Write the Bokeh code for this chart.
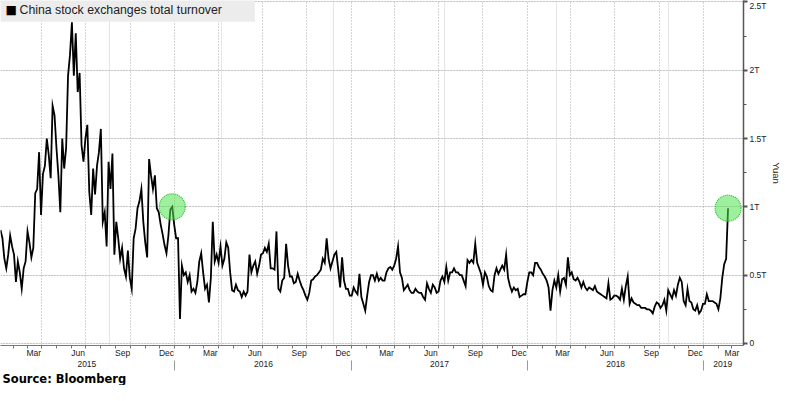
import pandas as pd
from bokeh.plotting import figure
from bokeh.models import (ColumnDataSource, Range1d, LinearAxis, FixedTicker,
                          SingleIntervalTicker, Grid, Label, Title)
from bokeh.embed import file_html
from bokeh.resources import INLINE

# ---------------- data (trillion yuan), sampled every 4 calendar days ----------------
series_start = "2015-01-05"
step_days = 4
turnover = [
    0.83, 0.77, 0.62, 0.55, 0.65, 0.79, 0.71, 0.65, 0.45, 0.60,
    0.52, 0.40, 0.55, 0.60, 0.82, 0.74, 0.63, 0.70, 1.10, 1.13,
    1.40, 0.94, 1.24, 1.30, 1.50, 1.38, 1.21, 1.74, 1.67, 1.43,
    1.23, 0.96, 1.50, 1.28, 1.43, 1.96, 2.11, 2.35, 1.96, 2.27,
    1.84, 1.98, 1.45, 1.33, 1.50, 1.60, 1.11, 0.94, 1.28, 1.09,
    1.30, 1.40, 1.57, 0.89, 0.96, 0.71, 1.33, 1.13, 1.39, 0.65,
    0.89, 0.77, 0.62, 0.70, 0.55, 0.49, 0.68, 0.48, 0.40, 0.77,
    0.84, 0.99, 1.04, 1.13, 0.89, 0.74, 0.63, 1.35, 1.23, 1.13,
    1.23, 0.99, 0.96, 0.87, 0.80, 0.72, 0.66, 0.79, 0.98, 1.00,
    0.87, 0.77, 0.77, 0.18, 0.57, 0.50, 0.52, 0.45, 0.50, 0.38,
    0.40, 0.37, 0.45, 0.60, 0.66, 0.52, 0.40, 0.43, 0.30, 0.48,
    0.89, 0.60, 0.65, 0.59, 0.71, 0.57, 0.62, 0.74, 0.70, 0.52,
    0.39, 0.38, 0.43, 0.39, 0.38, 0.34, 0.38, 0.35, 0.38, 0.65,
    0.52, 0.57, 0.60, 0.51, 0.57, 0.65, 0.66, 0.70, 0.67, 0.73,
    0.55, 0.55, 0.54, 0.82, 0.40, 0.38, 0.46, 0.48, 0.73, 0.57,
    0.49, 0.49, 0.44, 0.45, 0.51, 0.46, 0.42, 0.39, 0.35, 0.32,
    0.37, 0.46, 0.47, 0.49, 0.50, 0.52, 0.54, 0.62, 0.59, 0.77,
    0.62, 0.55, 0.60, 0.65, 0.67, 0.54, 0.41, 0.63, 0.46, 0.40,
    0.40, 0.35, 0.35, 0.41, 0.38, 0.36, 0.51, 0.34, 0.29, 0.24,
    0.35, 0.45, 0.50, 0.50, 0.46, 0.51, 0.46, 0.48, 0.46, 0.46,
    0.52, 0.55, 0.56, 0.54, 0.57, 0.62, 0.71, 0.52, 0.48, 0.39,
    0.41, 0.43, 0.39, 0.37, 0.37, 0.40, 0.38, 0.37, 0.37, 0.34,
    0.32, 0.44, 0.40, 0.37, 0.43, 0.41, 0.37, 0.38, 0.46, 0.49,
    0.45, 0.56, 0.46, 0.52, 0.52, 0.55, 0.52, 0.52, 0.50, 0.50,
    0.46, 0.42, 0.61, 0.59, 0.61, 0.59, 0.73, 0.59, 0.55, 0.51,
    0.43, 0.52, 0.49, 0.42, 0.39, 0.38, 0.50, 0.55, 0.51, 0.54,
    0.57, 0.54, 0.65, 0.48, 0.42, 0.38, 0.41, 0.39, 0.40, 0.34,
    0.35, 0.36, 0.36, 0.45, 0.52, 0.52, 0.50, 0.59, 0.59, 0.56,
    0.54, 0.51, 0.49, 0.46, 0.41, 0.24, 0.39, 0.46, 0.41, 0.50,
    0.38, 0.47, 0.48, 0.43, 0.63, 0.50, 0.52, 0.47, 0.46, 0.48,
    0.45, 0.41, 0.45, 0.41, 0.39, 0.41, 0.40, 0.39, 0.42, 0.38,
    0.37, 0.36, 0.35, 0.34, 0.33, 0.44, 0.32, 0.33, 0.35, 0.35,
    0.34, 0.32, 0.40, 0.32, 0.42, 0.49, 0.29, 0.33, 0.30, 0.29,
    0.28, 0.28, 0.26, 0.26, 0.26, 0.25, 0.25, 0.24, 0.22, 0.27,
    0.30, 0.29, 0.26, 0.28, 0.32, 0.24, 0.39, 0.36, 0.33, 0.39,
    0.35, 0.43, 0.48, 0.45, 0.31, 0.28, 0.40, 0.31, 0.30, 0.25,
    0.24, 0.28, 0.22, 0.24, 0.29, 0.29, 0.36, 0.31, 0.31, 0.31,
    0.30, 0.29, 0.25, 0.33, 0.48, 0.58, 0.62, 0.99,
]

highlight_dates = ["2015-12-27", "2019-02-21"]
highlight_values = [1.00, 0.99]

x_start, x_end = "2015-01-05", "2019-03-25"

grid_dates = ["2015-04-01", "2015-07-01", "2015-10-01", "2016-01-01",
              "2016-04-01", "2016-07-01", "2016-10-01", "2017-01-01",
              "2017-04-01", "2017-07-01", "2017-10-01", "2018-01-01",
              "2018-04-01", "2018-07-01", "2018-10-01", "2019-01-01"]
month_tick_dates = ["2015-03-15", "2015-06-15", "2015-09-15", "2015-12-15",
                    "2016-03-15", "2016-06-15", "2016-09-15", "2016-12-15",
                    "2017-03-15", "2017-06-15", "2017-09-15", "2017-12-15",
                    "2018-03-15", "2018-06-15", "2018-09-15", "2018-12-15",
                    "2019-03-01"]
month_tick_labels = ["Mar", "Jun", "Sep", "Dec"] * 4 + ["Mar"]
month_start_dates = list(pd.date_range("2015-02-01", "2019-03-01", freq="MS"))
year_tick_dates = ["2015-07-03", "2016-07-03", "2017-07-03", "2018-07-03", "2019-02-10"]
year_tick_labels = ["2015", "2016", "2017", "2018", "2019"]
year_break_dates = ["2016-01-01", "2017-01-01", "2018-01-01", "2019-01-01"]
y_tick_values = [0, 0.5, 1, 1.5, 2, 2.5]
y_tick_labels = ["0", "0.5T", "1T", "1.5T", "2T", "2.5T"]


def ms(d):
    return int(pd.Timestamp(d).value // 10**6)


dates = pd.date_range(series_start, periods=len(turnover), freq=f"{step_days}D")
src = ColumnDataSource(dict(date=dates, value=turnover))
hl_src = ColumnDataSource(dict(date=pd.to_datetime(highlight_dates), value=highlight_values))

FONT = "Liberation Sans"
TICK_COLOR = "#222222"
TICK_SIZE = "8.5px"

p = figure(width=784, height=385, output_backend="svg", toolbar_location=None,
           x_axis_location=None, y_axis_location=None,
           x_range=Range1d(ms(x_start), ms(x_end)),
           y_range=Range1d(-0.015, 2.51),
           min_border=0, outline_line_color=None,
           background_fill_color="white", border_fill_color="white")

# grids
p.add_layout(Grid(dimension=0, ticker=FixedTicker(ticks=[ms(d) for d in grid_dates]),
                  grid_line_color="#aaaaaa", grid_line_dash="1 2", grid_line_width=1))
p.add_layout(Grid(dimension=1, ticker=SingleIntervalTicker(interval=0.5),
                  grid_line_color="#aaaaaa", grid_line_dash="1 2", grid_line_width=1))

# series
p.line("date", "value", source=src, line_color="black", line_width=1.8,
       line_join="miter")
p.scatter("date", "value", source=hl_src, size=26, marker="circle",
          fill_color="#4ee44e", fill_alpha=0.55,
          line_color="#2cc02c", line_dash="1 1", line_width=1.2)

# right value axis
yaxis = LinearAxis(
    ticker=SingleIntervalTicker(interval=0.5, num_minor_ticks=2),
    major_label_overrides=dict(zip(y_tick_values, y_tick_labels)),
    axis_label="Yuan", axis_label_text_font=FONT, axis_label_text_font_size="9.5px",
    axis_label_text_font_style="normal", axis_label_text_color=TICK_COLOR,
    axis_label_standoff=1,
    major_label_text_font=FONT, major_label_text_font_size=TICK_SIZE,
    major_label_text_color=TICK_COLOR, major_label_standoff=2,
    axis_line_color="#555555", axis_line_width=1.5,
    major_tick_line_color="#555555", major_tick_line_width=2,
    major_tick_in=0, major_tick_out=4,
    minor_tick_line_color="#555555", minor_tick_in=0, minor_tick_out=3)
p.add_layout(yaxis, "right")

# month axis
month_ticks = [ms(d) for d in month_tick_dates]
month_axis = LinearAxis(
    ticker=FixedTicker(ticks=month_ticks, minor_ticks=[ms(d) for d in month_start_dates]),
    major_label_overrides=dict(zip(month_ticks, month_tick_labels)),
    major_label_text_font=FONT, major_label_text_font_size=TICK_SIZE,
    major_label_text_color=TICK_COLOR, major_label_standoff=-1,
    axis_line_color="#777777", axis_line_width=1.2,
    major_tick_line_color=None, major_tick_in=0, major_tick_out=0,
    minor_tick_line_color="#777777", minor_tick_in=0, minor_tick_out=3)
p.add_layout(month_axis, "below")

# year axis
year_ticks = [ms(d) for d in year_tick_dates]
year_axis = LinearAxis(
    ticker=FixedTicker(ticks=year_ticks, minor_ticks=[ms(d) for d in year_break_dates]),
    major_label_overrides=dict(zip(year_ticks, year_tick_labels)),
    major_label_text_font=FONT, major_label_text_font_size=TICK_SIZE,
    major_label_text_color=TICK_COLOR, major_label_standoff=-10,
    axis_line_color=None,
    major_tick_line_color=None, major_tick_in=0, major_tick_out=0,
    minor_tick_line_color="#999999", minor_tick_in=0, minor_tick_out=10)
p.add_layout(year_axis, "below")

# source note
p.add_layout(Title(text="Source: Bloomberg", text_font="DejaVu Sans", text_font_size="11.5px",
                   text_font_style="bold", text_color="black", align="left",
                   standoff=0, offset=2), "below")

# legend-like header: grey box with text, plus a black square marker
p.add_layout(Label(x=ms(x_start), y=2.53, anchor="top_left",
                   text="China stock exchanges total turnover",
                   text_font=FONT, text_font_size="12.3px", text_color="#222222",
                   background_fill_color="#ececec", background_fill_alpha=1.0,
                   padding=dict(left=19, right=33, top=5, bottom=5)))
p.add_layout(Label(x=ms(x_start), y=2.53, anchor="top_left",
                   text="\u25A0", text_font="DejaVu Sans", text_font_size="12px",
                   text_color="black", padding=dict(left=5, right=0, top=5, bottom=0)))

open("out.html", "w").write(file_html(p, INLINE))
